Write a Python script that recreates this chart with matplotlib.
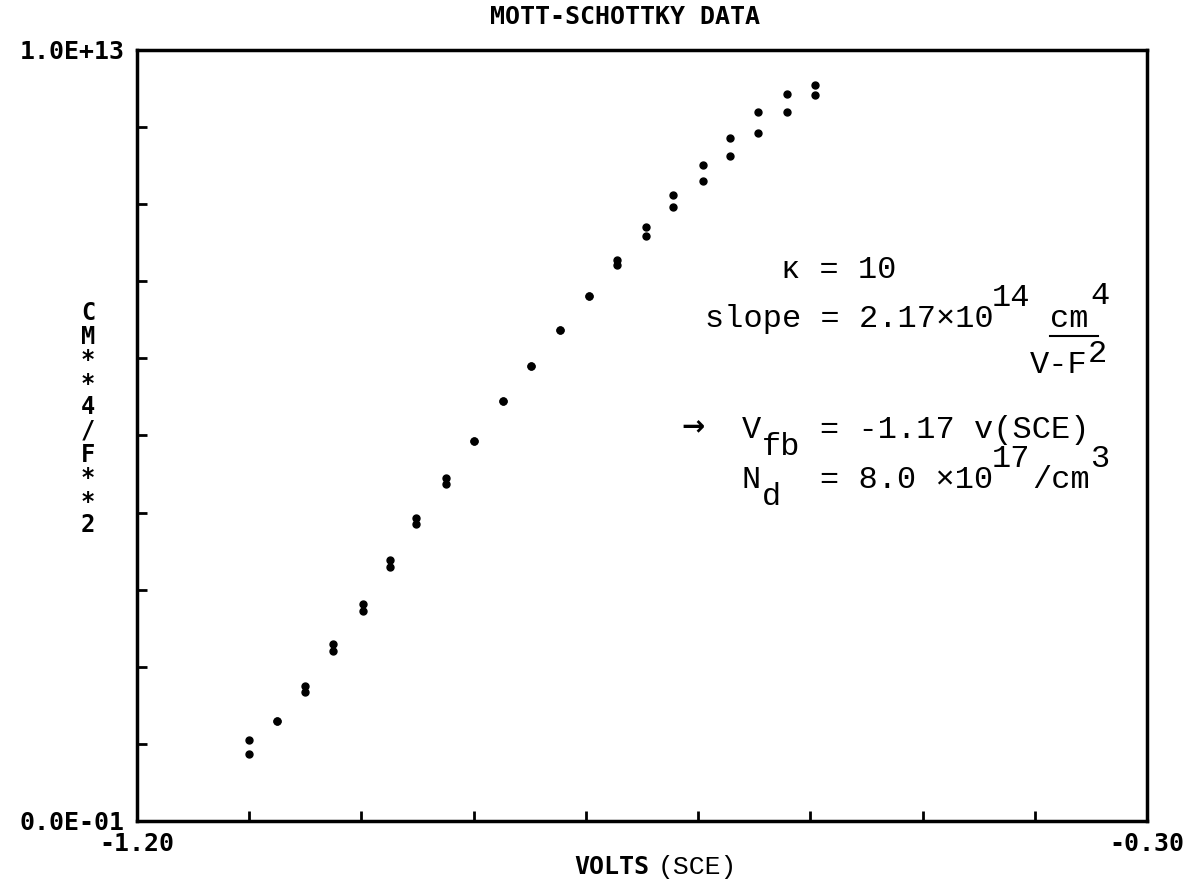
import matplotlib
matplotlib.use("Agg")
import matplotlib.pyplot as plt
from matplotlib.lines import Line2D

# capacitance^-2 vs potential, two readings per potential step
volts = [-1.100, -1.075, -1.050, -1.025, -0.999, -0.975, -0.951, -0.925,
         -0.900, -0.874, -0.849, -0.823, -0.797, -0.772, -0.746, -0.722,
         -0.696, -0.672, -0.647, -0.621, -0.596]
upper = [1.054, 1.293, 1.751, 2.292, 2.810, 3.385, 3.926, 4.449,
         4.929, 5.447, 5.901, 6.364, 6.809, 7.276, 7.700, 8.115,
         8.502, 8.862, 9.192, 9.429, 9.546]
lower = [0.869, 1.293, 1.677, 2.201, 2.728, 3.291, 3.848, 4.371,
         4.929, 5.447, 5.901, 6.364, 6.809, 7.211, 7.584, 7.963,
         8.298, 8.630, 8.920, 9.200, 9.416]
upper = [v * 1e12 for v in upper]
lower = [v * 1e12 for v in lower]

xticks = [-1.2, -1.1, -1.0, -0.9, -0.8, -0.7, -0.6, -0.5, -0.4, -0.3]
xlabels = ["-1.20", "", "", "", "", "", "", "", "", "-0.30"]
yticks = [i * 1e12 for i in range(11)]
ylabels = ["0.0E-01"] + [""] * 9 + ["1.0E+13"]

W, H = 1188, 890
MONO = ["Liberation Mono", "DejaVu Sans Mono"]
PLOT = ["DejaVu Sans Mono"]

fig = plt.figure(figsize=(W / 100, H / 100), dpi=100)
ax = fig.add_axes([137 / W, 1 - 821 / H, 1010 / W, 771 / H])

ax.plot(volts, upper, "o", color="black", ms=5)
ax.plot(volts, lower, "o", color="black", ms=5)

ax.set_xlim(-1.2, -0.3)
ax.set_ylim(0, 1e13)
ax.set_xticks(xticks)
ax.set_xticklabels(xlabels, fontweight="bold", fontsize=18, family=PLOT)
ax.set_yticks(yticks)
ax.set_yticklabels(ylabels, fontweight="bold", fontsize=18, family=PLOT)
ax.tick_params(direction="in", length=7, width=2)
ax.tick_params(axis="x", pad=8)
ax.tick_params(axis="y", pad=9)
for sp in ax.spines.values():
    sp.set_linewidth(2.5)


def txt(x, y, s, **kw):
    fig.text(x / W, 1 - y / H, s, **kw)


# title and axis labels
txt(625, 24, "MOTT-SCHOTTKY DATA", ha="center", va="baseline",
    fontsize=18, fontweight="bold", family=PLOT)
txt(612, 874, "VOLTS", ha="center", va="baseline",
    fontsize=18, fontweight="bold", family=PLOT)
txt(697, 874, "(SCE)", ha="center", va="baseline", fontsize=19, family=MONO)
for i, ch in enumerate("CM**4/F**2"):
    txt(88, 313 + i * 23.6, ch, ha="center", va="center",
        fontsize=17, fontweight="bold", family=PLOT)

# annotation block
big = dict(fontsize=23, family=MONO, va="baseline")
txt(781, 278, "κ = 10", **big)
txt(705, 327, "slope = 2.17×10", **big)
txt(992, 306, "14", **big)
txt(1050, 327, "cm", **big)
txt(1090, 304, "4", **big)
fig.add_artist(Line2D([1050 / W, 1098 / W], [1 - 336 / H, 1 - 336 / H],
                      transform=fig.transFigure, color="black", lw=1.5))
txt(1030, 373, "V-F", **big)
txt(1088, 362, "2", **big)
txt(681, 435, "→", fontsize=20, fontweight="bold",
    family=["DejaVu Sans"], va="baseline")
txt(742, 438, "V", **big)
txt(762, 455, "fb", **big)
txt(820, 438, "= -1.17 v(SCE)", **big)
txt(742, 488, "N", **big)
txt(762, 505, "d", **big)
txt(820, 488, "= 8.0 ×10", **big)
txt(992, 467, "17", **big)
txt(1032, 488, "/cm", **big)
txt(1090, 467, "3", **big)

fig.savefig("out.png", dpi=100)
